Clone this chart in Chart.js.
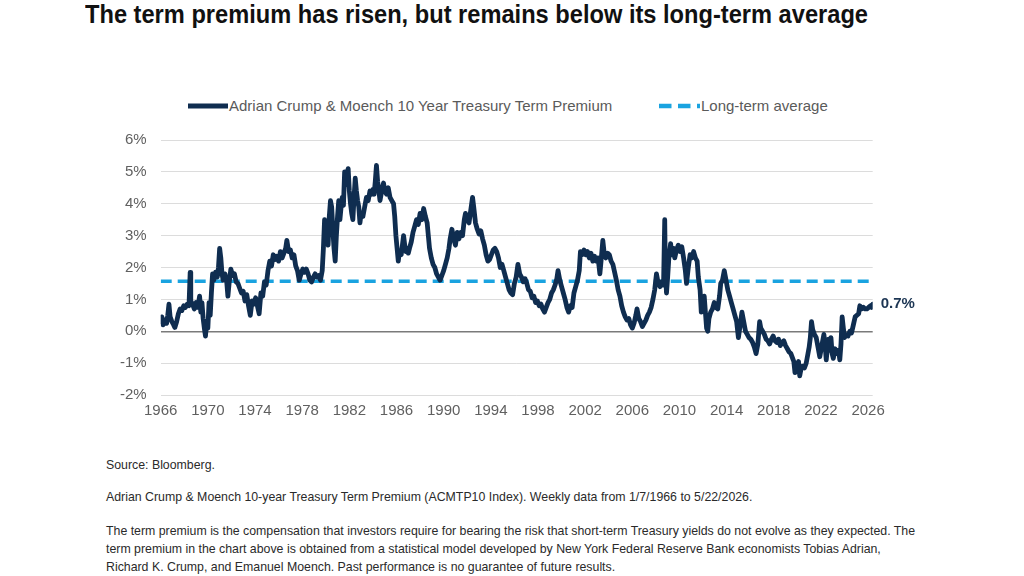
<!DOCTYPE html>
<html><head><meta charset="utf-8">
<script src="https://cdn.jsdelivr.net/npm/chart.js@4.4.1/dist/chart.umd.min.js"></script>
<style>
html,body{margin:0;padding:0;background:#fff;width:1024px;height:576px;overflow:hidden;font-family:"Liberation Sans",Arial,sans-serif;}
#title{position:absolute;left:85px;top:2px;font-size:25px;line-height:25px;font-weight:bold;color:#111;white-space:nowrap;transform-origin:0 0;}
.leg{position:absolute;top:97px;font-size:15px;line-height:18px;color:#5a5a5a;white-space:nowrap;}
#legSvg{position:absolute;left:0;top:0;}
#chartWrap{position:absolute;left:90px;top:117px;width:840px;height:308px;}
.fn{position:absolute;left:106px;font-size:12px;line-height:18px;color:#2a2a2a;white-space:nowrap;}
</style></head>
<body>
<div id="title">The term premium has risen, but remains below its long-term average</div>
<svg id="legSvg" width="1024" height="130">
  <line x1="188" y1="106" x2="228" y2="106" stroke="#0f2d50" stroke-width="5"/>
  <line x1="659" y1="106" x2="700" y2="106" stroke="#1aa3e0" stroke-width="4.5" stroke-dasharray="12.5 6.5"/>
</svg>
<div class="leg" id="leg1" style="left:229px">Adrian Crump &amp; Moench 10 Year Treasury Term Premium</div>
<div class="leg" id="leg2" style="left:701px">Long-term average</div>
<div id="chartWrap"><canvas id="c" width="840" height="308"></canvas></div>
<div class="fn" style="top:456px">Source: Bloomberg.</div>
<div class="fn" style="top:488px">Adrian Crump &amp; Moench 10-year Treasury Term Premium (ACMTP10 Index). Weekly data from 1/7/1966 to 5/22/2026.</div>
<div class="fn" id="p1" style="top:522px">The term premium is the compensation that investors require for bearing the risk that short-term Treasury yields do not evolve as they expected. The</div>
<div class="fn" style="top:540px">term premium in the chart above is obtained from a statistical model developed by New York Federal Reserve Bank economists Tobias Adrian,</div>
<div class="fn" style="top:558px">Richard K. Crump, and Emanuel Moench. Past performance is no guarantee of future results.</div>
<script>
// ---- DATA ----
const seriesLabel = "Adrian Crump & Moench 10 Year Treasury Term Premium";
const averageLabel = "Long-term average";
const xTickYears = [1966,1970,1974,1978,1982,1986,1990,1994,1998,2002,2006,2010,2014,2018,2022,2026];
const yTickValues = [-2,-1,0,1,2,3,4,5,6];
const longTermAverage = 1.57;
const lastValueLabel = "0.7%";
const dates = [
1966.0,1966.1,1966.2,1966.35,1966.5,1966.6,1966.7,1966.8,1966.95,1967.1,1967.2,1967.35,1967.5,1967.65,1967.8,1967.95,
1968.1,1968.25,1968.4,1968.5,1968.55,1968.7,1968.85,1969.0,1969.15,1969.3,1969.4,1969.5,1969.6,1969.7,1969.8,1969.9,
1970.0,1970.1,1970.2,1970.3,1970.4,1970.5,1970.65,1970.8,1970.9,1971.0,1971.1,1971.2,1971.3,1971.45,1971.6,1971.7,1971.8,1971.95,
1972.1,1972.25,1972.4,1972.55,1972.7,1972.85,1973.0,1973.15,1973.3,1973.45,1973.6,1973.75,1973.9,1974.05,1974.2,1974.35,1974.5,1974.65,1974.8,1974.95,
1975.1,1975.25,1975.4,1975.55,1975.7,1975.85,1976.0,1976.15,1976.3,1976.45,1976.6,1976.7,1976.85,1977.0,1977.15,1977.3,1977.45,1977.6,1977.75,1977.9,
1978.05,1978.2,1978.35,1978.5,1978.65,1978.8,1978.95,1979.1,1979.25,1979.4,1979.55,1979.7,1979.8,1979.9,
1980.0,1980.1,1980.2,1980.3,1980.4,1980.5,1980.6,1980.7,1980.8,1980.9,1981.0,1981.1,1981.2,1981.3,1981.4,1981.5,1981.6,1981.7,1981.8,1981.9,
1982.0,1982.1,1982.2,1982.3,1982.4,1982.5,1982.6,1982.7,1982.8,1982.9,1983.0,1983.15,1983.3,1983.45,1983.6,1983.75,1983.9,
1984.0,1984.1,1984.2,1984.3,1984.4,1984.5,1984.6,1984.7,1984.8,1984.9,1985.0,1985.15,1985.3,1985.45,1985.6,1985.75,1985.85,1985.95,
1986.05,1986.15,1986.25,1986.4,1986.5,1986.6,1986.7,1986.8,1986.9,1987.0,1987.1,1987.25,1987.4,1987.55,1987.7,1987.85,
1988.0,1988.15,1988.3,1988.45,1988.6,1988.7,1988.8,1988.95,1989.1,1989.25,1989.4,1989.55,1989.7,1989.85,
1990.0,1990.15,1990.3,1990.45,1990.55,1990.7,1990.85,1991.0,1991.15,1991.3,1991.45,1991.6,1991.75,1991.85,
1992.0,1992.15,1992.3,1992.45,1992.55,1992.7,1992.85,1993.0,1993.15,1993.3,1993.45,1993.6,1993.75,1993.9,
1994.05,1994.2,1994.35,1994.5,1994.65,1994.8,1994.95,1995.1,1995.25,1995.4,1995.55,1995.7,1995.85,
1996.0,1996.15,1996.3,1996.45,1996.6,1996.75,1996.9,1997.05,1997.2,1997.35,1997.5,1997.65,1997.8,1997.95,
1998.1,1998.25,1998.4,1998.55,1998.7,1998.85,1999.0,1999.15,1999.3,1999.45,1999.6,1999.7,1999.85,
2000.0,2000.15,2000.3,2000.45,2000.6,2000.75,2000.9,2001.05,2001.2,2001.35,2001.5,2001.6,2001.75,2001.9,
2002.05,2002.2,2002.35,2002.5,2002.65,2002.8,2002.95,2003.1,2003.25,2003.35,2003.5,2003.6,2003.75,2003.9,
2004.05,2004.2,2004.35,2004.5,2004.65,2004.8,2004.95,2005.1,2005.25,2005.4,2005.55,2005.7,2005.85,
2006.0,2006.15,2006.3,2006.4,2006.55,2006.7,2006.85,2007.0,2007.15,2007.3,2007.45,2007.6,2007.75,2007.9,
2008.05,2008.2,2008.35,2008.5,2008.65,2008.75,2008.8,2008.9,2009.0,2009.1,2009.25,2009.35,2009.5,2009.6,2009.75,2009.9,
2010.05,2010.2,2010.35,2010.5,2010.6,2010.75,2010.9,2011.05,2011.2,2011.35,2011.5,2011.6,2011.75,2011.85,2011.95,
2012.1,2012.2,2012.3,2012.4,2012.5,2012.65,2012.8,2012.95,2013.1,2013.25,2013.4,2013.5,2013.65,2013.8,2013.95,
2014.1,2014.25,2014.4,2014.55,2014.7,2014.85,2015.0,2015.15,2015.3,2015.45,2015.6,2015.75,2015.9,
2016.05,2016.2,2016.35,2016.5,2016.65,2016.8,2016.9,2017.05,2017.2,2017.35,2017.5,2017.65,2017.8,2017.95,
2018.1,2018.25,2018.4,2018.55,2018.7,2018.85,2019.0,2019.15,2019.3,2019.45,2019.6,2019.7,2019.8,2019.9,
2020.0,2020.1,2020.2,2020.3,2020.45,2020.6,2020.75,2020.9,2021.0,2021.1,2021.2,2021.3,2021.45,2021.6,2021.75,2021.9,
2022.0,2022.1,2022.25,2022.35,2022.45,2022.55,2022.65,2022.75,2022.85,2022.95,2023.05,2023.2,2023.35,2023.5,2023.6,2023.7,2023.8,2023.9,
2024.0,2024.15,2024.3,2024.45,2024.6,2024.75,2024.9,2025.05,2025.2,2025.3,2025.45,2025.6,2025.75,2025.9,2026.05,2026.2,2026.3,2026.39
];
const premium = [
0.30,0.45,0.20,0.35,0.25,0.50,0.85,0.45,0.30,0.20,0.12,0.30,0.55,0.70,0.65,0.80,
0.75,0.85,0.80,1.85,0.95,0.85,0.70,0.90,0.75,1.10,0.60,0.90,0.40,0.10,-0.15,0.30,
0.10,0.90,0.50,1.20,1.80,1.60,1.85,1.70,2.00,2.60,2.30,1.80,1.60,1.80,1.55,1.10,1.50,1.95,
1.75,1.80,1.55,1.50,1.35,1.20,1.25,0.95,1.15,0.80,0.50,0.95,0.85,1.05,0.80,0.55,1.20,1.10,1.55,1.45,
1.90,2.20,2.05,2.40,2.25,2.35,2.20,2.50,2.30,2.45,2.60,2.85,2.50,2.55,2.30,2.40,2.05,1.90,1.60,1.80,
1.95,1.85,1.95,1.80,1.60,1.55,1.70,1.80,1.70,1.75,1.60,1.90,2.60,3.50,
2.80,3.10,2.70,3.60,4.10,3.90,3.20,2.60,2.20,3.00,3.60,4.10,3.50,3.90,4.20,3.95,5.00,4.60,4.90,5.10,
4.40,4.00,3.70,3.50,4.20,4.80,4.40,4.10,3.90,3.40,3.70,3.60,3.90,4.20,4.10,4.40,4.30,
4.45,4.30,4.70,5.20,4.70,4.40,4.10,4.30,4.50,4.65,4.40,4.30,4.50,4.20,4.10,4.00,3.60,3.00,
2.60,2.20,2.50,2.40,2.70,3.00,2.70,2.50,2.60,2.45,2.60,2.80,3.10,3.30,3.50,3.35,
3.70,3.50,3.85,3.60,3.40,3.00,2.60,2.30,2.10,2.00,1.80,1.70,1.60,1.75,
1.90,2.10,2.30,2.60,2.90,3.20,2.90,2.70,3.10,2.90,3.10,3.00,3.50,3.70,
3.50,3.40,3.80,4.20,3.90,3.40,3.20,3.05,3.15,2.90,2.70,2.40,2.20,2.25,
2.40,2.55,2.60,2.50,2.30,2.00,2.10,1.90,1.70,1.50,1.30,1.20,1.15,
1.50,1.70,2.10,1.80,1.70,1.55,1.65,1.50,1.30,1.25,1.05,1.10,0.90,0.95,
0.80,0.85,0.70,0.60,0.75,0.90,1.00,1.20,1.30,1.45,1.65,1.90,1.60,
1.40,1.20,1.00,0.75,0.60,0.80,0.75,1.20,1.40,1.60,1.90,2.50,2.40,2.55,
2.40,2.50,2.30,2.45,2.20,2.35,2.20,2.30,1.80,2.20,2.85,2.50,2.30,2.45,
2.40,2.20,2.10,1.85,1.60,1.30,1.10,0.80,0.60,0.45,0.35,0.40,0.20,
0.10,0.25,0.50,0.70,0.40,0.30,0.15,0.25,0.35,0.50,0.60,0.75,1.00,1.30,
1.80,1.50,1.40,1.55,1.45,3.50,2.00,1.20,1.70,2.30,2.75,2.40,2.60,2.30,2.55,2.70,
2.50,2.65,2.30,1.90,1.50,2.00,2.40,2.30,2.50,2.30,2.20,1.70,1.30,0.60,0.90,
1.10,0.60,0.10,0.00,0.40,0.60,0.70,0.90,0.75,0.70,1.10,1.50,1.60,1.90,1.60,
1.30,1.10,0.90,0.70,0.50,0.30,-0.20,0.20,0.60,0.30,0.00,-0.10,-0.20,
-0.25,-0.35,-0.50,-0.70,-0.40,0.30,0.10,0.00,-0.10,-0.25,-0.30,-0.40,-0.25,-0.15,
-0.30,-0.35,-0.25,-0.45,-0.35,-0.30,-0.45,-0.55,-0.65,-0.70,-0.85,-0.95,-1.30,-1.00,
-1.10,-0.95,-1.40,-1.20,-1.10,-1.15,-1.00,-0.70,-0.50,-0.20,0.30,0.05,-0.10,-0.20,-0.50,-0.80,
-0.60,-0.40,-0.10,-0.40,-0.90,-0.50,-0.25,-0.60,-0.20,-0.70,-0.85,-0.55,-0.70,-0.60,-0.90,-0.40,0.45,0.10,
-0.20,-0.10,-0.15,0.00,-0.05,0.20,0.45,0.50,0.55,0.80,0.70,0.75,0.70,0.70,0.75,0.80,0.75,0.85
];
// ---- END DATA ----

// fit text widths
(function(){
  const t = document.getElementById('title');
  const w = t.getBoundingClientRect().width;
  t.style.transform = 'scaleX(' + (783 / w) + ')';
  const p = document.getElementById('p1');
  const pw = p.getBoundingClientRect().width;
  const fs = 12 * 810 / pw;
  document.querySelectorAll('.fn').forEach(e => e.style.fontSize = fs + 'px');
})();

const navy = '#0f2d50';
const lightBlue = '#1aa3e0';
const seriesPoints = dates.map((d, i) => ({x: d, y: premium[i]}));
const avgPoints = [{x: dates[0], y: longTermAverage}, {x: dates[dates.length - 1], y: longTermAverage}];

const endLabelPlugin = {
  id: 'endLabel',
  afterDatasetsDraw(chart) {
    const meta = chart.getDatasetMeta(0);
    const pt = meta.data[meta.data.length - 1];
    const ctx = chart.ctx;
    ctx.save();
    ctx.font = 'bold 15px "Liberation Sans", Arial, sans-serif';
    ctx.fillStyle = '#1c3553';
    ctx.textAlign = 'left';
    ctx.textBaseline = 'middle';
    ctx.fillText(lastValueLabel, pt.x + 8, pt.y);
    ctx.restore();
  }
};

new Chart(document.getElementById('c'), {
  type: 'line',
  data: {
    datasets: [
      {label: seriesLabel, data: seriesPoints, borderColor: navy, borderWidth: 4.8, pointRadius: 0,
       tension: 0, borderJoinStyle: 'round', borderCapStyle: 'round', fill: false},
      {label: averageLabel, data: avgPoints, borderColor: lightBlue, borderWidth: 3.5,
       borderDash: [11, 6], pointRadius: 0, fill: false}
    ]
  },
  options: {
    responsive: false,
    animation: false,
    devicePixelRatio: 1,
    layout: {padding: {top: 20, right: 57.3, bottom: 0, left: 0}},
    plugins: {legend: {display: false}, tooltip: {enabled: false}},
    scales: {
      x: {
        type: 'linear',
        min: dates[0],
        max: dates[dates.length - 1],
        afterBuildTicks: s => { s.ticks = xTickYears.map(v => ({value: v})); },
        afterFit: s => { s.height = 30; },
        grid: {display: false, drawTicks: false},
        border: {display: false},
        ticks: {autoSkip: false, maxRotation: 0, padding: 7, color: '#606060',
                font: {family: '"Liberation Sans", Arial, sans-serif', size: 15},
                callback: v => String(v)}
      },
      y: {
        min: -2, max: 6,
        afterBuildTicks: s => { s.ticks = yTickValues.map(v => ({value: v})); },
        afterFit: s => { s.width = 70.7; },
        grid: {drawTicks: false, color: c => (c.tick && c.tick.value === 0) ? '#7a7a7a' : '#dcdcdc',
               lineWidth: c => (c.tick && c.tick.value === 0) ? 1.5 : 1},
        border: {display: false},
        ticks: {padding: 14, color: '#606060',
                font: {family: '"Liberation Sans", Arial, sans-serif', size: 15},
                callback: v => v + '%'}
      }
    }
  },
  plugins: [endLabelPlugin]
});
</script>
</body></html>
